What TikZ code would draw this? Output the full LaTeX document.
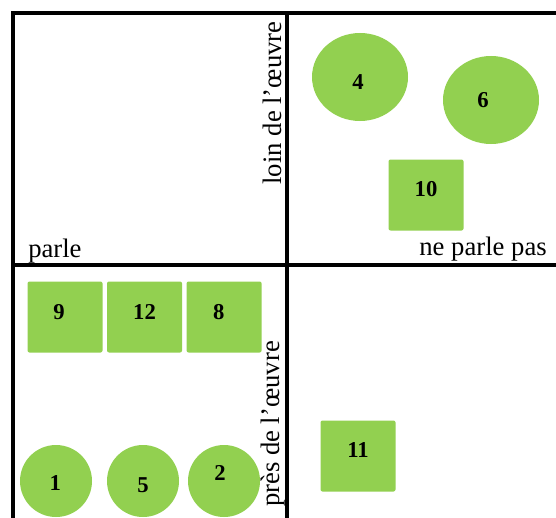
\documentclass[tikz,border=0pt]{standalone}
\usepackage{fontspec}
\setmainfont{Liberation Serif}
\usepackage{xcolor}
\usetikzlibrary{shapes.geometric,positioning}
\definecolor{leaf}{HTML}{92D050}

\begin{document}
\begin{tikzpicture}[
    x=0.75pt,y=-0.75pt,
    node distance=3pt and 3pt,
    frame/.style={line width=3.2pt,line cap=rect},
    num/.style={inner sep=0pt,font=\fontsize{17}{17}\selectfont\bfseries},
    tile/.style={rectangle,rounded corners=1.5pt,fill=leaf,minimum width=56.25pt,
                 minimum height=53.25pt,inner sep=0pt},
    disc/.style={circle,fill=leaf,minimum size=54pt,inner sep=0pt},
    blob/.style={ellipse,fill=leaf,minimum width=72pt,minimum height=66pt,inner sep=0pt},
    axis/.style={inner sep=0pt,font=\fontsize{20}{20}\selectfont}
]
\useasboundingbox (0,0) rectangle (556,517);

% quadrants
\draw[frame] (556,13) -| (13,517);
\draw[frame] (287,13) -- (287,517);
\draw[frame] (13,265) -- (556,265);

% axis texts
\node[axis,anchor=base west] (parle) at (28,257) {parle};
\node[axis,anchor=base east] (neparle) at (547,255) {ne parle pas};
\node[axis,rotate=90] (loin) at (272,103) {loin de l’œuvre};
\node[axis,rotate=90] (pres) at (273,424) {près de l’œuvre};

% far from the work
\node[blob,label={[num,shift={(-1.5pt,-3.5pt)}]center:4}] (n4) at (360,77) {};
\node[blob,label={[num,shift={(-6pt,0pt)}]center:6}] (n6) at (491,100) {};
\node[tile,label={[num,shift={(0pt,4.5pt)}]center:10}] (n10) at (426,195) {};

% near the work
\node[tile,label={[num,shift={(-4.5pt,4pt)}]center:9}] (n9) at (65,317) {};
\node[tile,right=of n9,label={[num,shift={(0pt,4pt)}]center:12}] (n12) {};
\node[tile,right=of n12,label={[num,shift={(-4pt,4pt)}]center:8}] (n8) {};
\node[disc,label={[num,shift={(-0.5pt,-1.5pt)}]center:1}] (n1) at (56,481) {};
\node[disc,label={[num,shift={(0pt,-3pt)}]center:5}] (n5) at (143,481) {};
\node[disc,label={[num,shift={(-3pt,6pt)}]center:2}] (n2) at (224,481) {};
\node[tile,label={[num,shift={(0pt,4.5pt)}]center:11}] (n11) at (358,456) {};
\end{tikzpicture}
\end{document}
